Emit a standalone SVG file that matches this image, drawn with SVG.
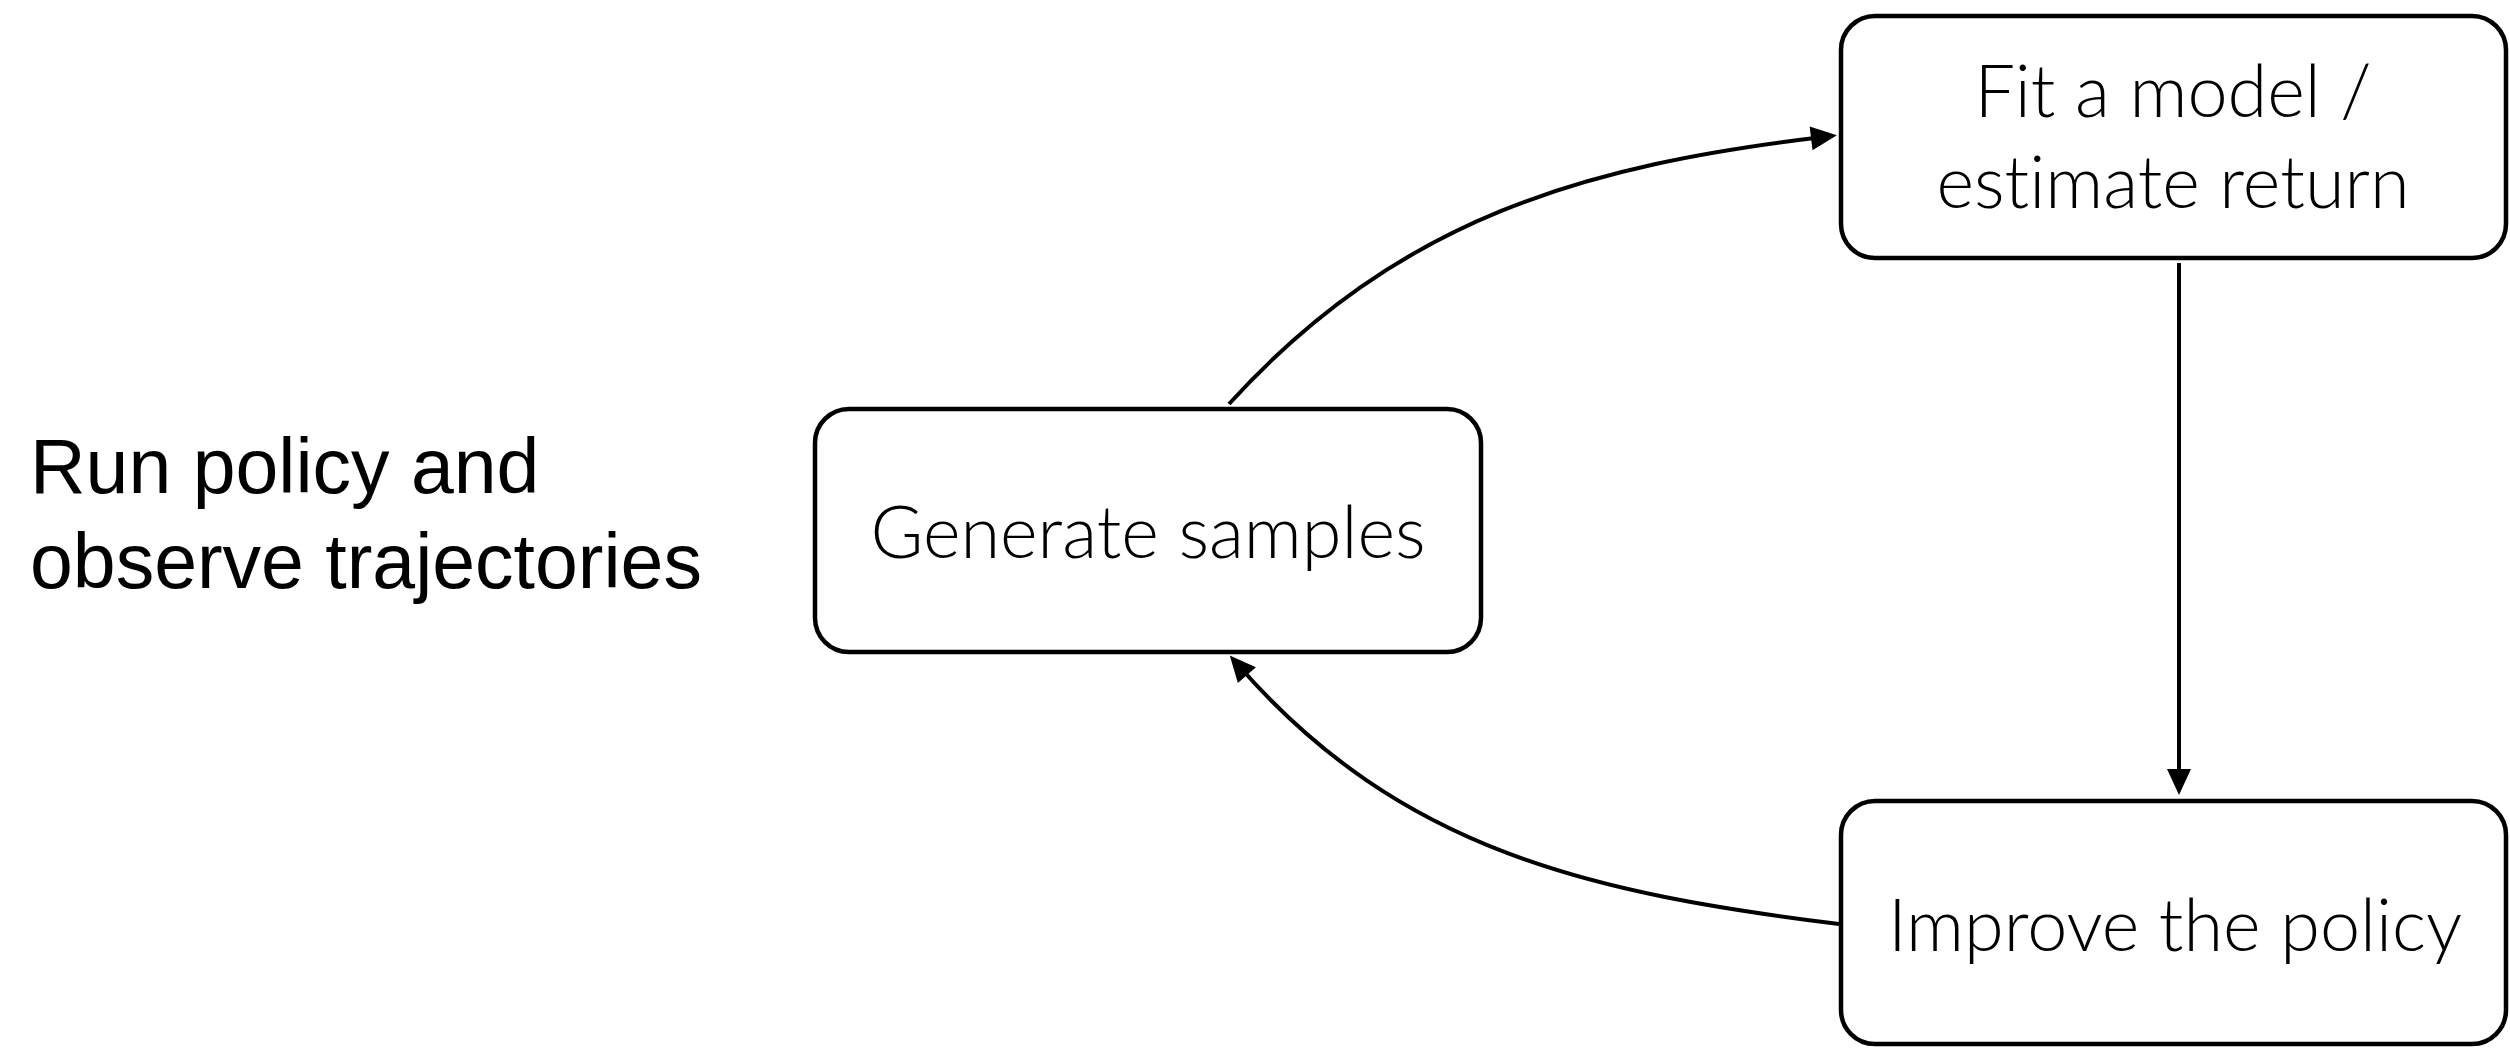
<svg xmlns="http://www.w3.org/2000/svg" width="2510" height="1053" viewBox="0 0 2510 1053">
  <style>
    .box { fill: #ffffff; stroke: #000000; stroke-width: 4.5; }
    .label { font-family: "Lato", "Liberation Sans", sans-serif; font-weight: 300; font-size: 72px; fill: #000000; text-anchor: middle; font-variant-ligatures: none; font-feature-settings: "liga" 0; }
    .side { font-family: "Liberation Sans", "Arial", sans-serif; font-size: 77px; fill: #000000; }
    .edge { fill: none; stroke: #000000; stroke-width: 4; }
  </style>
  <defs>
    <marker id="arrow" markerUnits="userSpaceOnUse" markerWidth="26" markerHeight="24" refX="12" refY="12" orient="auto" overflow="visible">
      <path d="M0,0 L26,12 L0,24 Z" fill="#000000"/>
    </marker>
  </defs>
  <rect width="2510" height="1053" fill="#ffffff"/>

  <g id="side-label">
    <text class="side" x="30" y="493">Run policy and</text>
    <text class="side" x="30" y="588">observe trajectories</text>
  </g>

  <g id="connectors">
    <path class="edge" d="M1229,404 C1399,217 1587,165 1823,137" marker-end="url(#arrow)"/>
    <path class="edge" d="M2179,263 L2179,781" marker-end="url(#arrow)"/>
    <path class="edge" d="M1839,924 C1589,893 1400,850 1239,666" marker-end="url(#arrow)"/>
  </g>

  <g id="node-fit">
    <rect class="box" x="1841" y="16" width="665" height="242" rx="34" ry="34"/>
    <text class="label" x="2173" y="117">Fit a model /</text>
    <text class="label" x="2173" y="208">estimate return</text>
  </g>

  <g id="node-generate">
    <rect class="box" x="815" y="409" width="666" height="243" rx="34" ry="34"/>
    <text class="label" x="1148" y="558">Generate samples</text>
  </g>

  <g id="node-improve">
    <rect class="box" x="1841" y="801" width="665" height="243" rx="34" ry="34"/>
    <text class="label" x="2175" y="951">Improve the policy</text>
  </g>
</svg>
